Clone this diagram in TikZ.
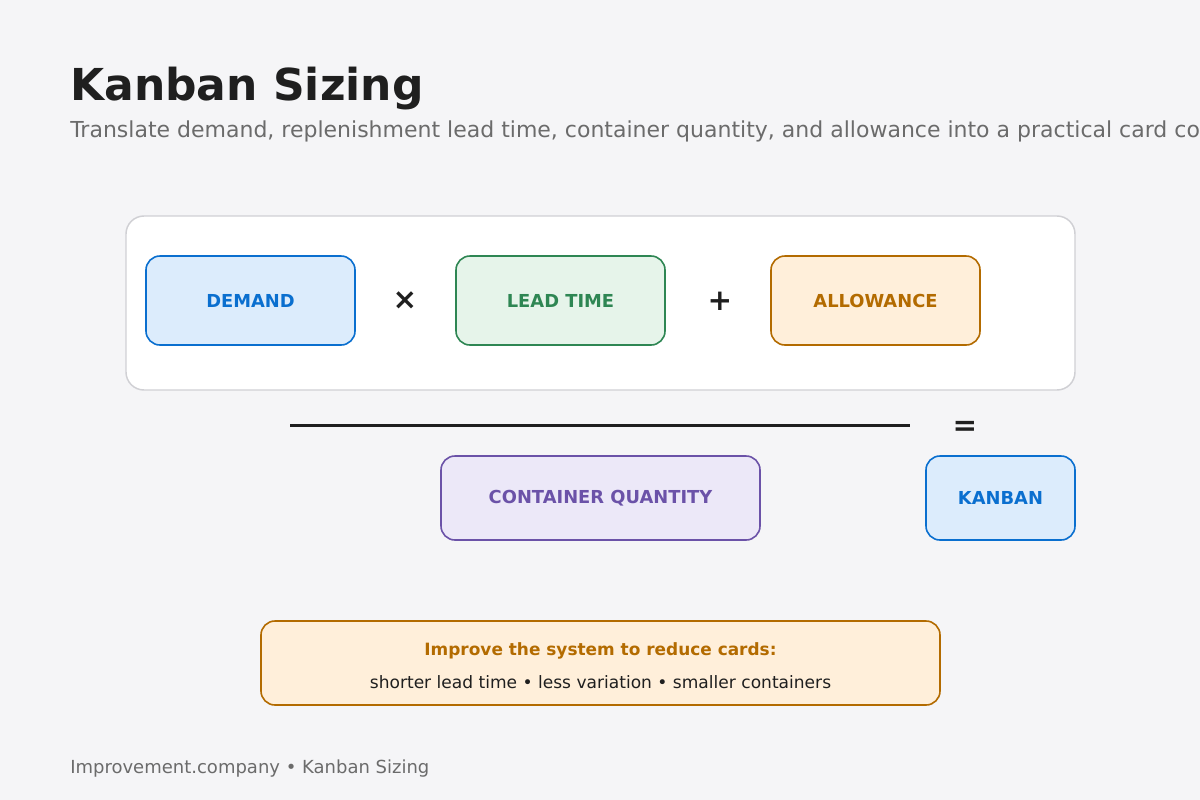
\documentclass[tikz,border=0pt]{standalone}
\usepackage{fontspec}
\setmainfont{DejaVu Sans}
\definecolor{pagebg}{HTML}{F5F5F7}
\definecolor{inkdark}{HTML}{1F1F1F}
\definecolor{inkgray}{HTML}{6B6B6B}
\definecolor{panelline}{HTML}{D0D0D4}
\definecolor{blueline}{HTML}{0A6FCF}
\definecolor{bluefill}{HTML}{DCECFC}
\definecolor{greenline}{HTML}{2E8653}
\definecolor{greenfill}{HTML}{E6F4EA}
\definecolor{amberline}{HTML}{B36B00}
\definecolor{amberfill}{HTML}{FFEFDA}
\definecolor{violetline}{HTML}{6B52A8}
\definecolor{violetfill}{HTML}{ECE8F8}
\tikzset{
  termbox/.style={draw=#1line, fill=#1fill, text=#1line, line width=1.2pt,
    rounded corners=10.5pt, font=\bfseries\fontsize{13.4}{15}\selectfont,
    minimum width=156.75pt, minimum height=66.75pt, inner sep=0pt},
  opsign/.style={text=inkdark, font=\bfseries\fontsize{22}{24}\selectfont, inner sep=0pt}
}
\begin{document}
\begin{tikzpicture}[x=0.75pt,y=0.75pt,yscale=-1,xscale=1]
  \clip (0,0) rectangle (1200,800);
  \fill [pagebg] (0,0) rectangle (1200,800);

  % Title
  \node (title) [anchor=base west, inner sep=0pt, text=inkdark,
    font=\bfseries\fontsize{33}{38}\selectfont] at (70,100) {Kanban Sizing};
  \node (subtitle) [anchor=base west, inner sep=0pt, text=inkgray,
    font=\fontsize{16.5}{19}\selectfont] at (70,137)
    {Translate demand, replenishment lead time, container quantity, and allowance into a practical card count.};

  % Numerator panel
  \node (panel) [draw=panelline, fill=white, line width=1.1pt, rounded corners=13.5pt,
    minimum width=711.75pt, minimum height=130.5pt] at (600.5,303) {};

  \node (demand) [termbox=blue] at (250.5,300.5) {DEMAND};
  \node (times) [opsign] at (405,301) {×};
  \node (leadtime) [termbox=green] at (560.5,300.5) {LEAD TIME};
  \node (plus) [opsign] at (720,301) {+};
  \node (allowance) [termbox=amber] at (875.5,300.5) {ALLOWANCE};

  % Fraction bar
  \coordinate (barL) at (290,425);
  \coordinate (barR) at (910,425);
  \draw [inkdark, line width=2.25pt] (barL) -- (barR);
  \node (equals) [opsign] at (965,428) {=};

  % Denominator and result
  \node (container) [termbox=violet, minimum width=239.25pt, minimum height=63pt] at (600.5,498) {CONTAINER QUANTITY};
  \node (kanban) [termbox=blue, minimum width=111.75pt, minimum height=63pt] at (1000.5,498) {KANBAN};

  % Note
  \node (note) [draw=amberline, fill=amberfill, line width=1.2pt, rounded corners=10.5pt,
    minimum width=509.25pt, minimum height=63pt] at (600.5,663) {};
  \node (notehead) [text=amberline, font=\bfseries\fontsize{12.7}{14}\selectfont, inner sep=0pt]
    at (600.5,651) {Improve the system to reduce cards:};
  \node (notebody) [text=inkdark, font=\fontsize{12.8}{14}\selectfont, inner sep=0pt]
    at (600.5,682) {shorter lead time • less variation • smaller containers};

  % Footer
  \node (footer) [anchor=base west, inner sep=0pt, text=inkgray,
    font=\fontsize{13.5}{16}\selectfont] at (70,773) {Improvement.company • Kanban Sizing};
\end{tikzpicture}
\end{document}
